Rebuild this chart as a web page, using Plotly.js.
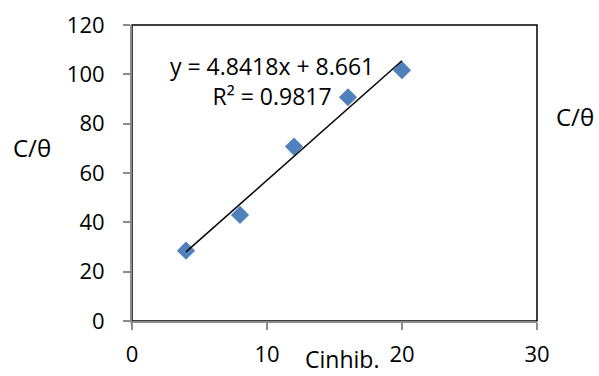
<!DOCTYPE html>
<html>
<head>
<meta charset="utf-8">
<script src="https://cdn.plot.ly/plotly-3.0.1.min.js"></script>
<style>html,body{margin:0;padding:0;background:#fff;}#chart{width:599px;height:376px;}</style>
</head>
<body>
<div id="chart"></div>
<script>
const cinhib = [4, 8, 12, 16, 20];
const cTheta = [28.5, 43, 70.7, 90.7, 101.7];
const slope = 4.8418;
const intercept = 8.661;
const trendX = [4, 20];
const trendY = trendX.map(x => slope * x + intercept);
const xTicks = [0, 10, 20, 30];
const yTicks = [0, 20, 40, 60, 80, 100, 120];

const font = {family: "Open Sans, sans-serif", size: 22, color: "#000"};
const eqFont = {family: "Open Sans, sans-serif", size: 23, color: "#000"};
const bigFont = {family: "Open Sans, sans-serif", size: 24, color: "#000"};

const data = [
  {x: cinhib, y: cTheta, type: "scatter", mode: "markers", name: "C/θ",
   marker: {symbol: "diamond", size: 14, color: "#4F81BD"}},
  {x: trendX, y: trendY, type: "scatter", mode: "lines", name: "Linear",
   line: {color: "#000", width: 1.5}}
];

const layout = {
  width: 599, height: 376,
  margin: {l: 132, r: 62, t: 25, b: 55},
  paper_bgcolor: "#fff", plot_bgcolor: "#fff",
  showlegend: false,
  font: font,
  xaxis: {range: [0, 30], tickvals: xTicks, showgrid: false, zeroline: false,
    showline: true, linecolor: "#8c8c8c", linewidth: 2,
    ticks: "outside", ticklen: 7, tickcolor: "#8c8c8c", tickwidth: 2,
    ticklabelstandoff: 6, tickfont: font},
  yaxis: {range: [0, 120], tickvals: yTicks, showgrid: false, zeroline: false,
    showline: true, linecolor: "#8c8c8c", linewidth: 2,
    ticks: "outside", ticklen: 7, tickcolor: "#8c8c8c", tickwidth: 2,
    ticklabelstandoff: 14, tickfont: font},
  shapes: [{type: "rect", xref: "paper", yref: "paper", x0: 0, y0: 0, x1: 1, y1: 1,
    line: {color: "#000", width: 1.5}, layer: "below"}],
  annotations: [
    {text: "y = 4.8418x + 8.661<br>R² = 0.9817", xref: "paper", yref: "paper",
     x: 0.3457, y: 0.8108, xanchor: "center", yanchor: "middle", showarrow: false,
     align: "center", font: eqFont},
    {text: "C/θ", xref: "paper", yref: "paper", x: -0.2469, y: 0.5845,
     xanchor: "center", yanchor: "middle", showarrow: false, font: bigFont},
    {text: "C/θ", xref: "paper", yref: "paper", x: 1.0938, y: 0.6892,
     xanchor: "center", yanchor: "middle", showarrow: false, font: bigFont},
    {text: "Cinhib.", xref: "paper", yref: "paper", x: 0.5185, y: -0.1858,
     xanchor: "center", yanchor: "bottom", showarrow: false, borderpad: 0,
     font: {family: "Open Sans, sans-serif", size: 23, color: "#000"}}
  ]
};

Plotly.newPlot("chart", data, layout, {displayModeBar: false, staticPlot: true});
</script>
</body>
</html>
